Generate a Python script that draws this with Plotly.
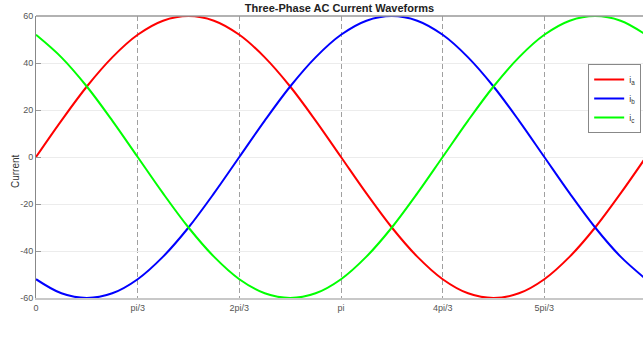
import plotly.graph_objects as go

# Angles (degrees) at which the waveforms were read
angle_deg = [0, 15, 30, 45, 60, 75, 90, 105, 120, 135, 150, 165, 180,
             195, 210, 225, 240, 255, 270, 285, 300, 315, 330, 345, 360]
i_a = [0, 15.5, 30, 42.4, 52, 58, 60, 58, 52, 42.4, 30, 15.5, 0,
       -15.5, -30, -42.4, -52, -58, -60, -58, -52, -42.4, -30, -15.5, 0]
i_b = [-52, -58, -60, -58, -52, -42.4, -30, -15.5, 0, 15.5, 30, 42.4, 52,
       58, 60, 58, 52, 42.4, 30, 15.5, 0, -15.5, -30, -42.4, -52]
i_c = [52, 42.4, 30, 15.5, 0, -15.5, -30, -42.4, -52, -58, -60, -58, -52,
       -42.4, -30, -15.5, 0, 15.5, 30, 42.4, 52, 58, 60, 58, 52]

x_tickvals = [0, 60, 120, 180, 240, 300]
x_ticktext = ["0", "pi/3", "2pi/3", "pi", "4pi/3", "5pi/3"]
y_tickvals = [-60, -40, -20, 0, 20, 40, 60]
y_ticktext = ["-60", "-40", "-20", "0", "20", "40", "60"]

series = [("i<sub>a</sub>", i_a, "#ff0000"),
          ("i<sub>b</sub>", i_b, "#0000ff"),
          ("i<sub>c</sub>", i_c, "#00ff00")]

fig = go.Figure()
for name, vals, col in series:
    fig.add_trace(go.Scatter(x=angle_deg, y=vals, mode="lines", name=name,
                             line=dict(color=col, width=2, shape="spline", smoothing=1)))

font_family = "Liberation Sans, Arial, sans-serif"
fig.update_layout(
    width=643, height=340,
    margin=dict(l=36, r=0, t=16, b=42),
    paper_bgcolor="white", plot_bgcolor="white",
    font=dict(family=font_family, size=9, color="#444"),
    title=dict(text="<b>Three-Phase AC Current Waveforms</b>",
               font=dict(size=11, color="#222"),
               x=0.5, xref="paper", xanchor="center",
               y=1 - 8 / 340, yref="container", yanchor="middle"),
    showlegend=True,
    legend=dict(x=0.997, y=0.83, xanchor="right", yanchor="top",
                bgcolor="white", bordercolor="#888", borderwidth=1,
                font=dict(size=9, color="#333"), itemwidth=30,
                tracegroupgap=0),
    xaxis=dict(range=[0, 360 * 607 / 610], tickvals=x_tickvals, ticktext=x_ticktext,
               showgrid=True, gridcolor="#a0a0a0", griddash="5px,3px", gridwidth=1,
               showline=True, linecolor="#c8c8c8", linewidth=2,
               ticks="", zeroline=False, tickfont=dict(size=9, color="#555")),
    yaxis=dict(range=[-60, 60], tickvals=y_tickvals, ticktext=y_ticktext,
               showgrid=True, gridcolor="#ececec", gridwidth=1,
               showline=True, linecolor="#888", linewidth=1,
               ticks="inside", ticklen=5, tickcolor="#999",
               zeroline=False, tickfont=dict(size=9, color="#555")),
    shapes=[dict(type="line", xref="paper", yref="paper", x0=0, x1=1, y0=1, y1=1,
                 line=dict(color="#999", width=1.5))],
    annotations=[dict(text="Current", textangle=-90, showarrow=False,
                      xref="paper", yref="paper", x=(15 - 36) / 607, y=(298 - 171) / 282,
                      xanchor="center", yanchor="middle",
                      font=dict(size=10, color="#333"))],
)

fig.write_html("out.html")
